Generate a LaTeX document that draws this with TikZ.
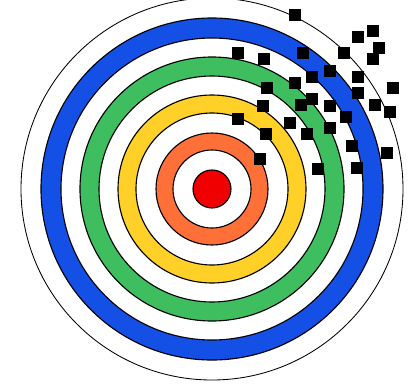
\documentclass[tikz,border=0pt]{standalone}
\usepackage{tikz}
\usepackage{xcolor}
\usetikzlibrary{positioning}

\definecolor{ringblue}{RGB}{20,80,230}
\definecolor{ringgreen}{RGB}{62,190,95}
\definecolor{ringyellow}{RGB}{255,208,40}
\definecolor{ringorange}{RGB}{255,112,56}
\definecolor{bullred}{RGB}{240,0,0}

\begin{document}
\begin{tikzpicture}[
    x=0.025cm, y=-0.025cm,
    ring/.style={draw=black, line width=0.8pt},
    hit/.style={fill=black, inner sep=0pt, minimum size=0.28cm, rectangle}
]
\useasboundingbox (0,0) rectangle (409,383);
\clip (0,0) rectangle (409,383);

\coordinate (centre) at (212,189);

% Rings
\fill[ring, fill=white, line width=0.6pt] (centre) circle (191);
\fill[ring, fill=ringblue] (centre) circle (171);
\fill[ring, fill=white] (centre) circle (151);
\fill[ring, fill=ringgreen] (centre) circle (132);
\fill[ring, fill=white] (centre) circle (113);
\fill[ring, fill=ringyellow] (centre) circle (94);
\fill[ring, fill=white] (centre) circle (76);
\fill[ring, fill=ringorange] (centre) circle (56);
\fill[ring, fill=white] (centre) circle (39);
\fill[ring, fill=bullred] (centre) circle (19);

% Hits
\foreach \x/\y [count=\i] in {295/15, 358/37, 373/31, 379/48, 373/59, 344/53,
    303/53, 238/53, 264/59, 330/71, 312/77, 358/77, 295/83, 267/88,
    393/88, 358/93, 312/99, 301/105, 263/106, 330/106, 375/105, 390/112,
    346/117, 238/119, 290/123, 330/128, 266/134, 307/134, 352/146,
    387/153, 260/159, 318/169, 357/168}
    \node[hit] (hit\i) at (\x,\y) {};

\end{tikzpicture}
\end{document}
